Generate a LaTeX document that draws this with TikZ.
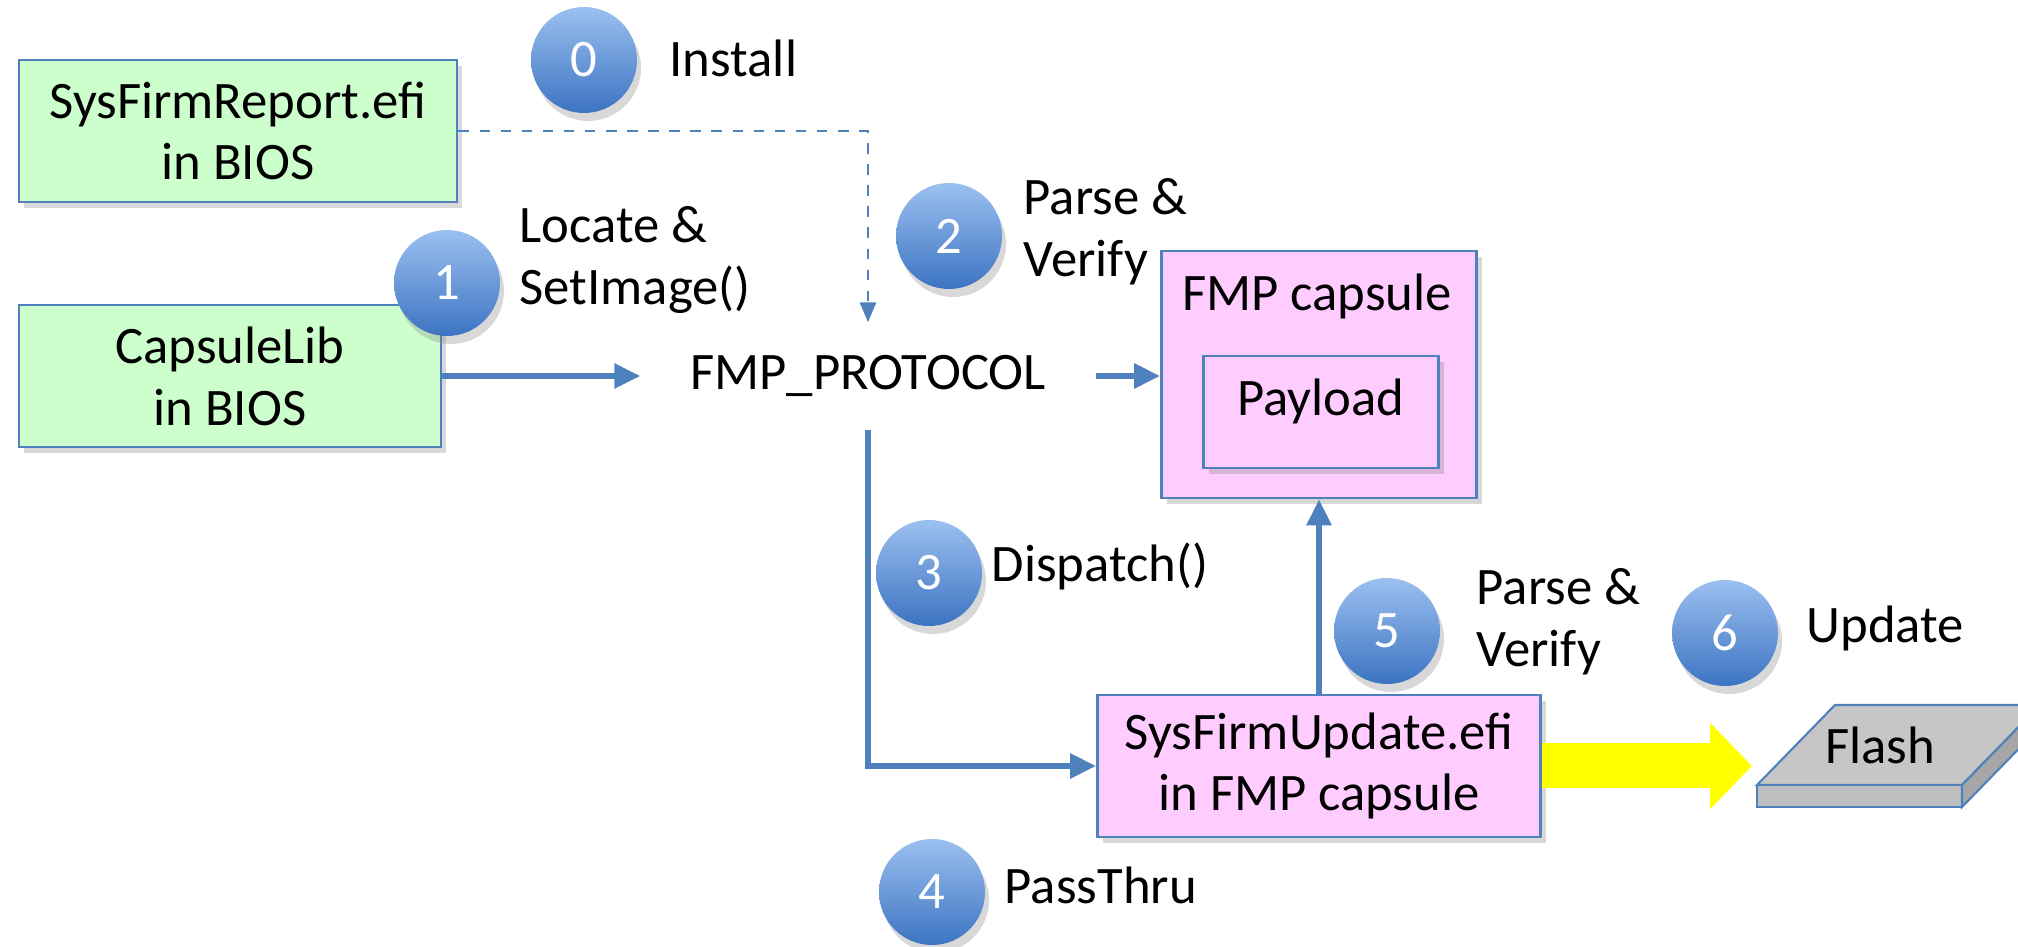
\documentclass[tikz,border=0pt]{standalone}
\usepackage{fontspec}
\setmainfont{Carlito}
\usepackage{tikz}
\usetikzlibrary{arrows.meta, positioning, shadows, calc}
\definecolor{fblue}{HTML}{4F81BD}
\definecolor{fgreen}{HTML}{CCFFCC}
\definecolor{fpink}{HTML}{FFCCFF}
\definecolor{fdotlight}{HTML}{9CC0F0}
\definecolor{fdotdark}{HTML}{3C74C2}
\definecolor{fyellow}{HTML}{FFFF00}
\newcommand{\lbl}{\fontsize{15}{17.6}\selectfont}

\tikzset{
  blockbox/.style={draw=fblue, line width=0.8pt, align=center, font=\lbl,
    inner sep=0pt, drop shadow={opacity=0.3, shadow xshift=0.5mm, shadow yshift=-0.6mm}},
  stepdot/.style={circle, minimum size=1.06cm, inner sep=0pt, top color=fdotlight,
    bottom color=fdotdark, text=white, font=\lbl,
    drop shadow={opacity=0.3, shadow xshift=0.4mm, shadow yshift=-0.8mm}},
  steptext/.style={anchor=west, align=left, inner sep=0pt, font=\lbl},
  flow/.style={draw=fblue, line width=1.6pt, -{Triangle[length=0.26cm, width=0.24cm]}},
  dashflow/.style={draw=fblue, line width=0.8pt, dashed, -{Triangle[length=0.2cm, width=0.16cm]}},
}

\begin{document}
\begin{tikzpicture}[x=1cm, y=1cm]
\useasboundingbox (0,0) rectangle (20.18,9.47);
\fill[white] (0,0) rectangle (20.18,9.47);
% boxes
\node[blockbox, fill=fgreen, minimum width=4.38cm, minimum height=1.42cm]
  (report) at (2.38,8.16) {SysFirmReport.efi\\in BIOS};
\node[blockbox, fill=fgreen, minimum width=4.22cm, minimum height=1.42cm]
  (caplib) at (2.30,5.71) {CapsuleLib\\in BIOS};
\node[font=\lbl, minimum width=4.54cm, minimum height=1.06cm, inner sep=0pt]
  (fmp) at (8.68,5.71) {FMP\_PROTOCOL};
\node[blockbox, fill=fpink, minimum width=3.15cm, minimum height=2.47cm]
  (cap) at (13.19,5.725) {};
\node[font=\lbl, inner sep=0pt] (captitle) at (13.17,6.51) {FMP capsule};
\node[blockbox, fill=fpink, minimum width=2.35cm, minimum height=1.12cm, text depth=0.3cm]
  (payload) at (13.21,5.35) {Payload};
\node[blockbox, fill=fpink, minimum width=4.43cm, minimum height=1.42cm]
  (upd) at (13.19,1.81) {SysFirmUpdate.efi\\in FMP capsule};
% flash slab
\fill[gray!45, draw=fblue, line width=0.6pt] (17.57,1.62) -- (18.35,2.42) -- (20.40,2.42) -- (19.62,1.62) -- cycle;
\fill[gray!50, draw=fblue, line width=0.6pt] (17.57,1.62) rectangle (19.62,1.40);
\fill[gray!70, draw=fblue, line width=0.6pt] (19.62,1.62) -- (20.40,2.42) -- (20.40,2.20) -- (19.62,1.40) -- cycle;
\node[font=\lbl, inner sep=0pt] (flash) at (18.80,2.02) {Flash};
\coordinate (flashin) at (17.52,1.81);
% connectors
\draw[dashflow] (report.east) -| (fmp.north);
\draw[flow] (caplib.east) -- (fmp.west);
\draw[flow] (fmp.east) -- (fmp.east -| cap.west);
\draw[flow] (fmp.south) |- (upd.west);
\draw[flow] (upd.north) -- (cap.south);
\draw[fyellow, line width=0.45cm, -{Triangle[length=0.42cm, width=0.84cm]}] (upd.east) -- (flashin);
% steps
\node[stepdot] (s0) at (5.84,8.87) {0};
\node[stepdot] (s1) at (4.47,6.64) {1};
\node[stepdot] (s2) at (9.49,7.11) {2};
\node[stepdot] (s3) at (9.29,3.74) {3};
\node[stepdot] (s4) at (9.32,0.55) {4};
\node[stepdot] (s5) at (13.87,3.16) {5};
\node[stepdot] (s6) at (17.25,3.14) {6};
\node[steptext] (t0) at (6.69,8.89) {Install};
\node[steptext] (t1) at (5.19,6.87) {Locate \&\\SetImage()};
\node[steptext] (t2) at (10.23,7.15) {Parse \&\\Verify};
\node[steptext] (t3) at (9.91,3.81) {Dispatch()};
\node[steptext] (t4) at (10.04,0.62) {PassThru};
\node[steptext] (t5) at (14.76,3.25) {Parse \&\\Verify};
\node[steptext] (t6) at (18.06,3.19) {Update};
\end{tikzpicture}
\end{document}
